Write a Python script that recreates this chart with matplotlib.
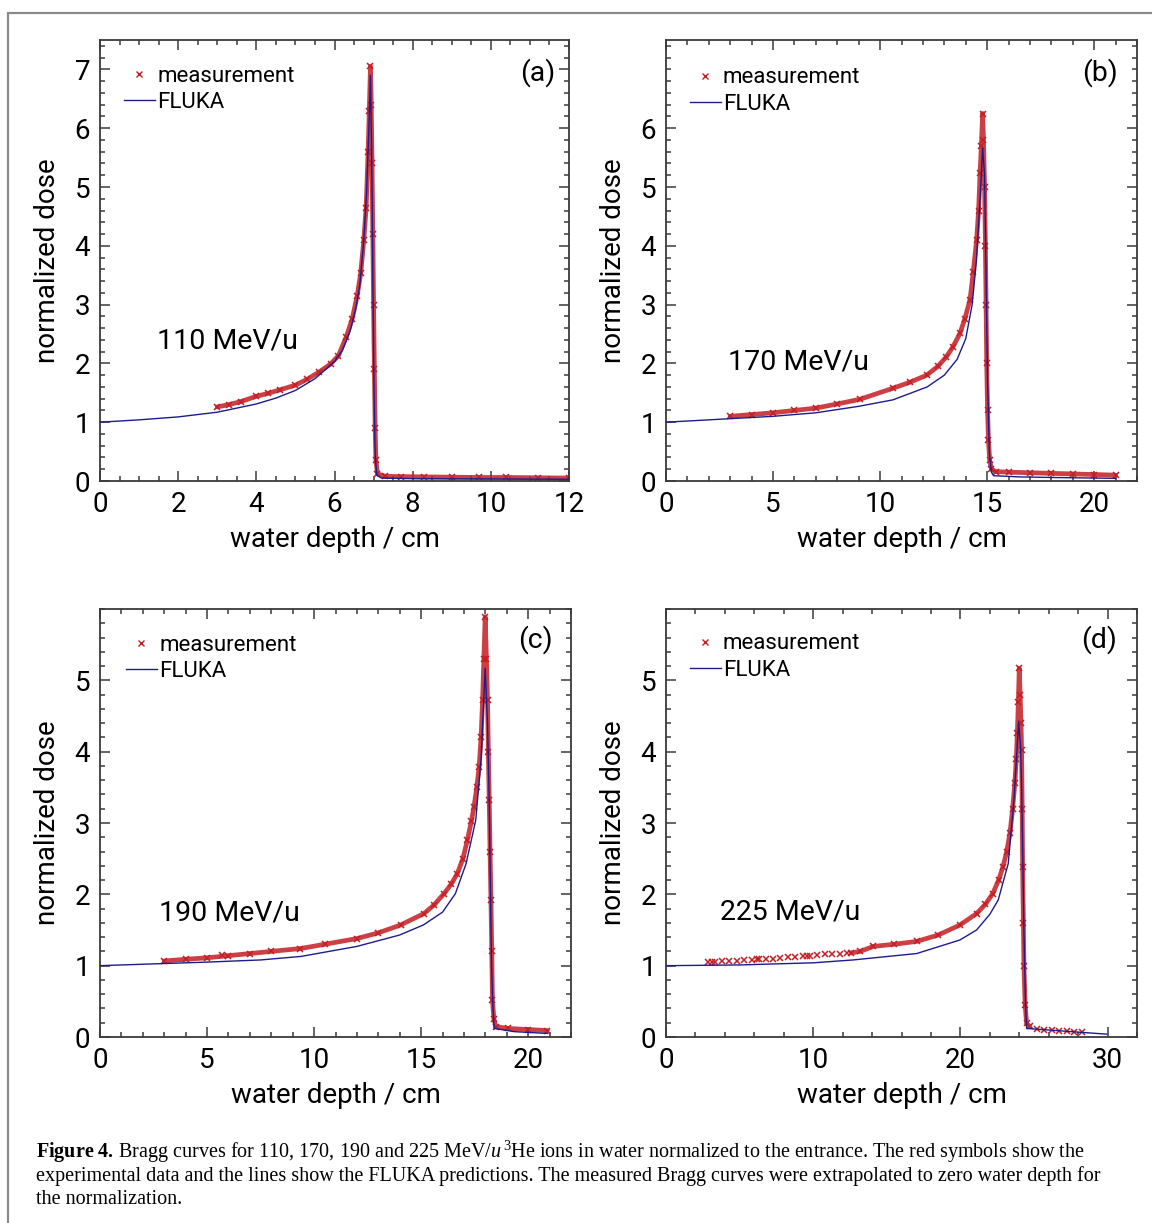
import matplotlib
matplotlib.use('Agg')
import matplotlib.pyplot as plt
from matplotlib.patches import Rectangle
from matplotlib.ticker import MultipleLocator

plt.rcParams['font.family'] = ['Roboto', 'DejaVu Sans']
plt.rcParams['mathtext.fontset'] = 'custom'
plt.rcParams['mathtext.rm'] = 'Liberation Serif'
plt.rcParams['mathtext.it'] = 'Liberation Serif:italic'
plt.rcParams['mathtext.bf'] = 'Liberation Serif:bold'

RED = '#c41e24'
BLUE = '#1c1c8c'
AXCOL = '#3a3a3a'

# 110 MeV/u
fluka_a_x = [0, 1, 2, 3, 4, 4.5, 5, 5.5, 6.0, 6.2, 6.4, 6.55, 6.65, 6.75, 6.82, 6.88, 6.92,
             6.95, 6.98, 7.01, 7.04, 7.08, 7.2, 8, 10, 12]
fluka_a_y = [1.0, 1.04, 1.09, 1.17, 1.31, 1.41, 1.54, 1.74, 2.03, 2.22, 2.55, 2.95, 3.35, 4.1,
             4.9, 6.0, 6.9, 5.6, 3.6, 1.6, 0.45, 0.1, 0.05, 0.04, 0.035, 0.03]
meas_a_x = [3.0, 3.3, 3.6, 4.0, 4.3, 4.6, 5.0, 5.3, 5.6, 5.9, 6.1, 6.3, 6.45, 6.58, 6.67, 6.75,
            6.81, 6.86, 6.89, 6.92, 6.94, 6.96, 6.98, 7.0, 7.02, 7.04, 7.06, 7.1, 7.3, 7.7,
            8.3, 9.0, 9.7, 10.4, 11.2, 12.0]
meas_a_y = [1.26, 1.30, 1.35, 1.44, 1.49, 1.55, 1.63, 1.73, 1.85, 1.99, 2.13, 2.45, 2.75, 3.15,
            3.53, 4.1, 4.65, 5.6, 6.3, 7.05, 6.4, 5.4, 4.2, 3.0, 1.9, 0.9, 0.35, 0.12, 0.08,
            0.075, 0.07, 0.065, 0.06, 0.06, 0.055, 0.05]
sparse_a_x = []
sparse_a_y = []

# 170 MeV/u
fluka_b_x = [0, 1, 3, 5, 7, 9, 10.6, 12.2, 13.0, 13.6, 14.0, 14.3, 14.5, 14.67, 14.79, 14.88,
             14.95, 15.02, 15.1, 15.2, 15.3, 16.5, 18, 21]
fluka_b_y = [1.0, 1.02, 1.06, 1.1, 1.16, 1.27, 1.38, 1.6, 1.8, 2.07, 2.42, 3.0, 3.75, 4.8,
             5.66, 5.2, 3.5, 1.7, 0.5, 0.15, 0.09, 0.07, 0.06, 0.045]
meas_b_x = [3, 4, 5, 6, 7, 8, 9.06, 10.62, 11.4, 12.18, 12.7, 13.09, 13.4, 13.73, 13.95, 14.2,
            14.35, 14.51, 14.6, 14.67, 14.73, 14.79, 14.83, 14.88, 14.92, 14.95, 14.98, 15.02,
            15.06, 15.12, 15.2, 15.4, 16, 17, 18, 19, 20, 21]
meas_b_y = [1.10, 1.13, 1.16, 1.20, 1.24, 1.31, 1.39, 1.58, 1.68, 1.80, 1.95, 2.11, 2.28, 2.51,
            2.75, 3.08, 3.55, 4.10, 4.6, 5.23, 5.7, 6.25, 5.8, 5.0, 4.0, 3.0, 2.0, 1.2,
            0.7, 0.35, 0.2, 0.16, 0.15, 0.14, 0.13, 0.12, 0.11, 0.10]
sparse_b_x = []
sparse_b_y = []

# 190 MeV/u
fluka_c_x = [0, 2, 5, 7.5, 9.4, 12.0, 14.0, 15.1, 16.0, 16.6, 17.1, 17.55, 17.8, 17.99, 18.1,
             18.18, 18.24, 18.29, 18.35, 18.41, 19.35, 20.9]
fluka_c_y = [1.0, 1.02, 1.05, 1.08, 1.13, 1.27, 1.43, 1.57, 1.75, 2.01, 2.43, 3.04, 3.9, 5.17,
             4.4, 3.32, 2.0, 0.99, 0.45, 0.12, 0.075, 0.05]
meas_c_x = [3, 4, 5, 6, 7, 8, 9.36, 10.5, 12, 13, 14.04, 15.13, 15.6, 16.07, 16.4, 16.69, 16.95,
            17.16, 17.35, 17.47, 17.6, 17.71, 17.8, 17.87, 17.93, 17.99, 18.05, 18.1, 18.14,
            18.18, 18.22, 18.26, 18.3, 18.33, 18.4, 18.49, 19.05, 20, 20.9]
meas_c_y = [1.065, 1.09, 1.11, 1.14, 1.17, 1.20, 1.24, 1.30, 1.38, 1.46, 1.57, 1.73, 1.85, 2.01,
            2.14, 2.29, 2.5, 2.76, 3.03, 3.23, 3.5, 3.79, 4.2, 4.72, 5.3, 5.89, 5.3, 4.72, 4.0,
            3.32, 2.6, 1.92, 1.2, 0.52, 0.25, 0.145, 0.12, 0.105, 0.09]
sparse_c_x = [5.7]
sparse_c_y = [1.15]

# 225 MeV/u
fluka_d_x = [0, 5, 10.0, 12.7, 17.03, 19.97, 21.1, 22.0, 22.57, 23.25, 23.64, 23.96, 24.08,
             24.16, 24.25, 24.32, 24.42, 24.5, 25.86, 29.94]
fluka_d_y = [1.0, 1.01, 1.04, 1.08, 1.17, 1.36, 1.5, 1.72, 1.92, 2.43, 3.32, 4.42, 4.1, 3.51,
             2.4, 1.46, 0.5, 0.12, 0.10, 0.04]
meas_d_x = [12.6, 13.2, 14.09, 15.5, 17.03, 18.5, 19.97, 21.1, 21.7, 22.2, 22.6, 22.9, 23.15,
            23.37, 23.55, 23.7, 23.8, 23.87, 23.94, 24.0, 24.06, 24.12, 24.16, 24.2, 24.23,
            24.28, 24.32, 24.4, 24.5, 24.7]
meas_d_y = [1.18, 1.20, 1.27, 1.30, 1.34, 1.43, 1.57, 1.73, 1.86, 2.01, 2.2, 2.39, 2.6, 2.86,
            3.2, 3.56, 3.9, 4.26, 4.7, 5.17, 4.8, 4.4, 4.02, 3.2, 2.39, 1.6, 0.99, 0.45, 0.19,
            0.15]
sparse_d_x = [2.88, 3.1, 3.33, 3.78, 4.3, 4.8, 5.3, 5.82, 6.2, 6.34, 6.79, 7.29, 7.74, 8.27,
              8.76, 9.33, 9.56, 9.78, 10.28, 10.8, 11.3, 11.82, 12.27,
              25.18, 25.68, 26.2, 26.72, 27.22, 27.72, 28.24]
sparse_d_y = [1.05, 1.05, 1.05, 1.06, 1.07, 1.07, 1.08, 1.08, 1.09, 1.09, 1.10, 1.10, 1.11,
              1.12, 1.12, 1.13, 1.14, 1.14, 1.15, 1.16, 1.16, 1.17, 1.18,
              0.11, 0.10, 0.095, 0.09, 0.08, 0.075, 0.065]

panels = [
    dict(pos=[100, 40, 469, 441], xmax=12, ymax=7.5, xmaj=2, xmin=0.5, ymaj_top=7,
         fx=fluka_a_x, fy=fluka_a_y, mx=meas_a_x, my=meas_a_y, sx=sparse_a_x, sy=sparse_a_y,
         energy='110 MeV/u', epos=(0.121, 0.317), tag='(a)', tpos=(0.970, 0.925),
         leg=(0.051, 0.942)),
    dict(pos=[666, 40, 471, 441], xmax=22, ymax=7.5, xmaj=5, xmin=1, ymaj_top=6,
         fx=fluka_b_x, fy=fluka_b_y, mx=meas_b_x, my=meas_b_y, sx=sparse_b_x, sy=sparse_b_y,
         energy='170 MeV/u', epos=(0.132, 0.27), tag='(b)', tpos=(0.960, 0.925),
         leg=(0.05, 0.938)),
    dict(pos=[100, 609, 471, 428], xmax=22, ymax=6, xmaj=5, xmin=1, ymaj_top=5,
         fx=fluka_c_x, fy=fluka_c_y, mx=meas_c_x, my=meas_c_y, sx=sparse_c_x, sy=sparse_c_y,
         energy='190 MeV/u', epos=(0.125, 0.29), tag='(c)', tpos=(0.962, 0.928),
         leg=(0.055, 0.94)),
    dict(pos=[666, 609, 471, 428], xmax=32, ymax=6, xmaj=10, xmin=2, ymaj_top=5,
         fx=fluka_d_x, fy=fluka_d_y, mx=meas_d_x, my=meas_d_y, sx=sparse_d_x, sy=sparse_d_y,
         energy='225 MeV/u', epos=(0.115, 0.292), tag='(d)', tpos=(0.958, 0.928),
         leg=(0.05, 0.943)),
]

W, H = 1152, 1223
fig = plt.figure(figsize=(W / 100, H / 100), dpi=100)

# thin grey frame round the figure
fig.patches.append(Rectangle((8 / W, -0.1), 1.2, (H - 13) / H + 0.1, transform=fig.transFigure,
                             fill=False, edgecolor='#8a8a8a', linewidth=1.6))

for p in panels:
    l, t, w, h = p['pos']
    ax = fig.add_axes([l / W, (H - t - h) / H, w / W, h / H])

    # measured points: dense band, then the isolated points
    ax.plot(p['mx'], p['my'], color=RED, lw=3.4, alpha=0.85, solid_capstyle='round', zorder=2)
    ax.plot(p['mx'], p['my'], ls='none', marker='x', ms=4.5, mew=1.1, color=RED, zorder=2)
    ax.plot(p['sx'], p['sy'], ls='none', marker='x', ms=4, mew=1.1, color=RED, zorder=2)
    ax.plot(p['fx'], p['fy'], color=BLUE, lw=1.0, zorder=3)

    # legend entries
    ax.plot([], [], ls='none', marker='x', ms=4.5, mew=1.0, color=RED, label='measurement')
    ax.plot([], [], color=BLUE, lw=1.0, label='FLUKA')
    hs, ls = ax.get_legend_handles_labels()
    ax.legend(hs[-2:], ls[-2:], loc='upper left', bbox_to_anchor=p['leg'], frameon=False,
              fontsize=16, handlelength=1.4, handletextpad=0.1, labelspacing=0.25,
              borderpad=0, borderaxespad=0, numpoints=1)

    ax.set_xlim(0, p['xmax'])
    ax.set_ylim(0, p['ymax'])
    ax.set_xticks(range(0, p['xmax'] + 1, p['xmaj']))
    ax.set_yticks(range(0, p['ymaj_top'] + 1))
    ax.xaxis.set_minor_locator(MultipleLocator(p['xmin']))
    ax.yaxis.set_minor_locator(MultipleLocator(0.2))
    ax.tick_params(which='both', direction='in', top=True, right=True, color=AXCOL,
                   labelsize=20, width=1.1)
    ax.tick_params(which='major', length=7, pad=7)
    ax.tick_params(which='minor', length=3.5)
    for s in ax.spines.values():
        s.set_color(AXCOL)
        s.set_linewidth(1.3)

    ax.set_xlabel('water depth / cm', fontsize=20, labelpad=6)
    ax.set_ylabel('normalized dose', fontsize=20, labelpad=10)

    ax.text(p['epos'][0], p['epos'][1], p['energy'], transform=ax.transAxes, fontsize=20.5,
            va='center', ha='left')
    ax.text(p['tpos'][0], p['tpos'][1], p['tag'], transform=ax.transAxes, fontsize=20.5,
            va='center', ha='right')

# caption
cap = [
    r'$\mathbf{Figure\ 4.}\,$Bragg curves for 110, 170, 190 and 225 MeV/$u\,^{3}$He ions in water '
    r'normalized to the entrance. The red symbols show the',
    'experimental data and the lines show the FLUKA predictions. The measured Bragg curves were '
    'extrapolated to zero water depth for',
    'the normalization.',
]
for i, line in enumerate(cap):
    fig.text(36 / W, 1 - (1152 + 24 * i) / H, line, fontsize=14.5, va='center', ha='left',
             family='Liberation Serif')

fig.savefig('out.png', dpi=100)
